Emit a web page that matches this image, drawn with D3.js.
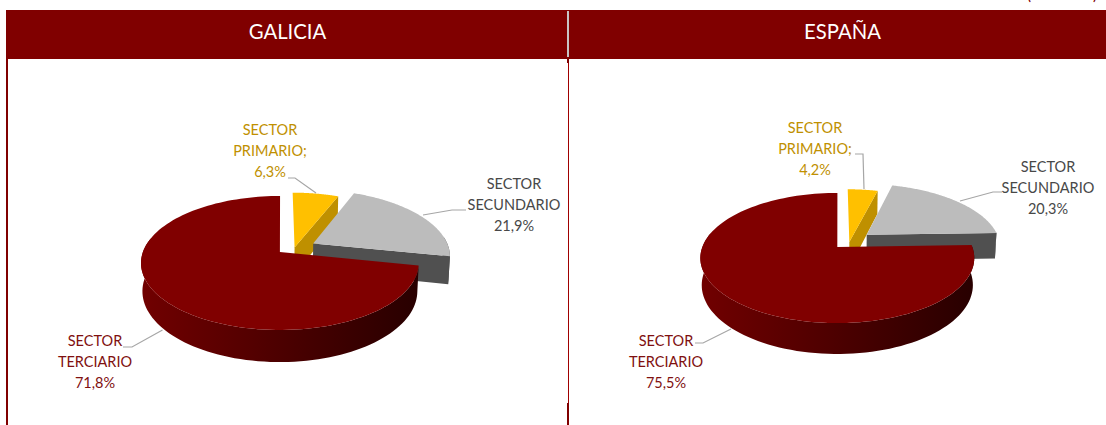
<!DOCTYPE html>
<html>
<head>
<meta charset="utf-8">
<script src="https://d3js.org/d3.v7.min.js"></script>
<style>
    html, body { margin: 0; padding: 0; background: #fff; overflow: hidden; }
    svg { display: block; }
    text { font-family: Lato, "Open Sans", sans-serif; }
</style>
</head>
<body>
<svg id="chart" width="1106" height="425"></svg>
<script>
const regions = ["GALICIA", "ESPAÑA"];
const sectors = ["SECTOR PRIMARIO", "SECTOR SECUNDARIO", "SECTOR TERCIARIO"];
const galiciaValues = [6.3, 21.9, 71.8];
const espanaValues = [4.2, 20.3, 75.5];

const maroon = "#800000";
const width = 1106;
const height = 425;

const svg = d3.select("#chart");
const defs = svg.append("defs");

// Header band and frame lines
svg.append("rect").attr("x", 6).attr("y", 10).attr("width", width - 6).attr("height", 49).attr("fill", maroon);
svg.append("rect").attr("x", 6).attr("y", 59).attr("width", 2).attr("height", height - 59).attr("fill", maroon);
svg.append("rect").attr("x", 567).attr("y", 11).attr("width", 2).attr("height", 46).attr("fill", "#c8c4c4");
svg.append("rect").attr("x", 567).attr("y", 57).attr("width", 2).attr("height", 6).attr("fill", maroon);
svg.append("rect").attr("x", 568).attr("y", 63).attr("width", 1).attr("height", 340).attr("fill", "#a00000");
svg.append("rect").attr("x", 567).attr("y", 403).attr("width", 2).attr("height", 22).attr("fill", maroon);

// Only the feet of the brackets of a note above the header are in the picture
[[1029, "("], [1095, ")"]].forEach(([x, mark]) => {
    svg.append("text").attr("x", x).attr("y", 0).attr("text-anchor", "middle")
        .attr("font-size", 15).attr("fill", maroon).text(mark);
});

const panels = [
    {
        name: regions[0], values: galiciaValues, titleX: 287.5,
        x0: 281, y0: 252, rx: 137, ry: 65.2, k: 0.164, m: 0.01, depth: 27.9,
        offsets: [[0.1, -0.07], [0.24, -0.135], [-0.008, 0]],
        labelX: [270, 514, 95],
        labelY: [130, 184, 341],
        leaders: [
            [[288, 178], [295, 178], [316, 193]],
            [[466, 210], [452, 210], [423, 215]],
            [[123, 347], [132, 347], [162.5, 330]],
        ],
    },
    {
        name: regions[1], values: espanaValues, titleX: 842.5,
        x0: 838, y0: 247, rx: 135, ry: 63.2, k: 0.169, m: 0.01, depth: 26.8,
        offsets: [[0.085, -0.08], [0.22, -0.2], [-0.005, 0]],
        labelX: [815, 1048, 666],
        labelY: [128, 167, 341],
        leaders: [
            [[855, 154], [863, 154], [864, 189]],
            [[1002, 192], [993, 192], [960, 201]],
            [[695, 343], [703, 343], [731, 329]],
        ],
    },
];

const topColours = ["#ffc000", "#bcbcbc", maroon];
const wallColours = ["#bf9000", "#505050", null];
const textColours = ["#c09000", "#484848", "#7f1010"];

const line = d3.line();
const pie = d3.pie().sort(null).value((d) => d);

const drawPanel = (panel, index) => {
    const g = svg.append("g");

    // Perspective projection of a point on the pie disc; z = 1 is the underside
    const project = (u, v, z) => {
        const w = 1 - panel.k * v + panel.m * z;
        return [
            panel.x0 + (panel.rx * u) / w,
            panel.y0 + (panel.ry * v + panel.depth * z) / w,
        ];
    };

    const gradientId = "wall" + index;
    const gradient = defs.append("linearGradient").attr("id", gradientId)
        .attr("gradientUnits", "userSpaceOnUse")
        .attr("x1", panel.x0 - panel.rx).attr("x2", panel.x0 + panel.rx)
        .attr("y1", 0).attr("y2", 0);
    gradient.append("stop").attr("offset", 0).attr("stop-color", "#700000");
    gradient.append("stop").attr("offset", 0.5).attr("stop-color", "#4c0000");
    gradient.append("stop").attr("offset", 1).attr("stop-color", "#280000");

    const arcs = pie(panel.values);

    arcs.forEach((arc, i) => {
        const [du, dv] = panel.offsets[i];
        const point = (a, z) => project(Math.sin(a) + du, -Math.cos(a) + dv, z);
        const steps = d3.range(0, 121).map((s) => arc.startAngle + ((arc.endAngle - arc.startAngle) * s) / 120);
        const apex = (z) => project(du, dv, z);
        const wallFill = i === 2 ? `url(#${gradientId})` : wallColours[i];

        // Outer wall: the rim facing the viewer, a little past the widest point
        const front = steps.filter((a) => -Math.cos(a) + dv > -0.25);
        if (front.length > 1) {
            const top = front.map((a) => point(a, 0));
            const bottom = front.slice().reverse().map((a) => point(a, 1));
            g.append("path").attr("d", line(top.concat(bottom)) + "Z").attr("fill", wallFill);
        }

        // Radial wall on the clockwise end of the slice
        if (i < 2) {
            g.append("path")
                .attr("d", line([apex(0), point(arc.endAngle, 0), point(arc.endAngle, 1), apex(1)]) + "Z")
                .attr("fill", wallFill);
        }

        const topFace = [apex(0)].concat(steps.map((a) => point(a, 0)));
        g.append("path").attr("d", line(topFace) + "Z").attr("fill", topColours[i]);
    });

    // Panel title
    g.append("text").attr("x", panel.titleX).attr("y", 39).attr("text-anchor", "middle")
        .attr("font-size", 20.3).attr("fill", "#fff").text(panel.name);

    // Leader lines
    panel.leaders.forEach((points) => {
        g.append("path").attr("d", line(points)).attr("fill", "none")
            .attr("stroke", "#a6a6a6").attr("stroke-width", 1.2);
    });

    // Data labels: name split over two lines, value on the third
    arcs.forEach((arc, i) => {
        const words = sectors[i].split(" ");
        const lines = [words[0], words[1] + (i === 0 ? ";" : ""), String(arc.data).replace(".", ",") + "%"];
        g.append("text").attr("text-anchor", "middle").attr("font-size", 14.5).attr("fill", textColours[i])
            .selectAll("tspan").data(lines).join("tspan")
            .attr("x", panel.labelX[i])
            .attr("y", (d, j) => panel.labelY[i] + j * 21 + 5)
            .text((d) => d);
    });
};

panels.forEach(drawPanel);
</script>
</body>
</html>
